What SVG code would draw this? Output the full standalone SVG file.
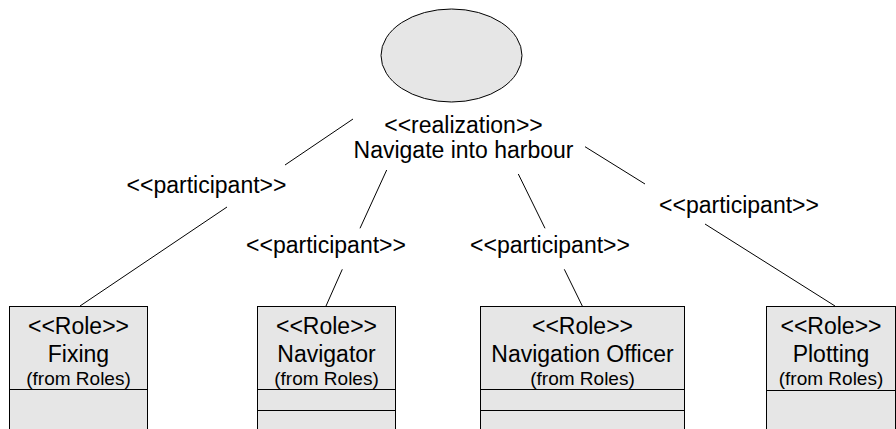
<svg xmlns="http://www.w3.org/2000/svg" width="896" height="429" viewBox="0 0 896 429">
<style>
.shape{fill:#e6e6e6;stroke:#000;stroke-width:1}
.sep{stroke:#000;stroke-width:1;fill:none}
.conn line{stroke:#000;stroke-width:1}
text{font-family:"Liberation Sans",Arial,sans-serif;fill:#000;text-anchor:middle}
.big{font-size:23px}
.small{font-size:19px}
</style>
<rect width="896" height="429" fill="#fff"/>
<g id="usecase">
<ellipse class="shape" cx="451.5" cy="55.5" rx="70.5" ry="46.5"/>
<text class="big" x="463.5" y="132.5">&lt;&lt;realization&gt;&gt;</text>
<text class="big" x="463.5" y="158">Navigate into harbour</text>
</g>
<g id="connectors" class="conn">
<line x1="353" y1="119" x2="285" y2="165"/>
<line x1="227" y1="207" x2="80" y2="306"/>
<line x1="386.7" y1="170" x2="360" y2="228.3"/>
<line x1="342.3" y1="269.3" x2="326" y2="306"/>
<line x1="518.3" y1="174" x2="545" y2="228.3"/>
<line x1="564.3" y1="269.3" x2="582.3" y2="306"/>
<line x1="585" y1="146.7" x2="645" y2="184"/>
<line x1="705" y1="224" x2="835" y2="306"/>
<text class="big" x="206.5" y="193">&lt;&lt;participant&gt;&gt;</text>
<text class="big" x="326" y="253">&lt;&lt;participant&gt;&gt;</text>
<text class="big" x="550" y="253">&lt;&lt;participant&gt;&gt;</text>
<text class="big" x="739" y="213">&lt;&lt;participant&gt;&gt;</text>
</g>
<g id="fixing">
<rect class="shape" x="9.5" y="306.5" width="138" height="130"/>
<line class="sep" x1="9.5" y1="389.5" x2="147.5" y2="389.5"/>
<text class="big" x="78.5" y="334">&lt;&lt;Role&gt;&gt;</text>
<text class="big" x="78.5" y="361.5">Fixing</text>
<text class="small" x="78.5" y="385">(from Roles)</text>
</g>
<g id="navigator">
<rect class="shape" x="257.5" y="306.5" width="138" height="130"/>
<line class="sep" x1="257.5" y1="389.5" x2="395.5" y2="389.5"/>
<line class="sep" x1="257.5" y1="410.5" x2="395.5" y2="410.5"/>
<text class="big" x="326.5" y="334">&lt;&lt;Role&gt;&gt;</text>
<text class="big" x="326.5" y="361.5">Navigator</text>
<text class="small" x="326.5" y="385">(from Roles)</text>
</g>
<g id="navigation-officer">
<rect class="shape" x="480.5" y="306.5" width="204" height="130"/>
<line class="sep" x1="480.5" y1="389.5" x2="684.5" y2="389.5"/>
<line class="sep" x1="480.5" y1="410.5" x2="684.5" y2="410.5"/>
<text class="big" x="582.5" y="334">&lt;&lt;Role&gt;&gt;</text>
<text class="big" x="582.5" y="361.5">Navigation Officer</text>
<text class="small" x="582.5" y="385">(from Roles)</text>
</g>
<g id="plotting">
<rect class="shape" x="766.5" y="306.5" width="129" height="130"/>
<line class="sep" x1="766.5" y1="390.5" x2="895.5" y2="390.5"/>
<text class="big" x="831" y="334">&lt;&lt;Role&gt;&gt;</text>
<text class="big" x="831" y="361.5">Plotting</text>
<text class="small" x="831" y="385">(from Roles)</text>
</g>
</svg>
